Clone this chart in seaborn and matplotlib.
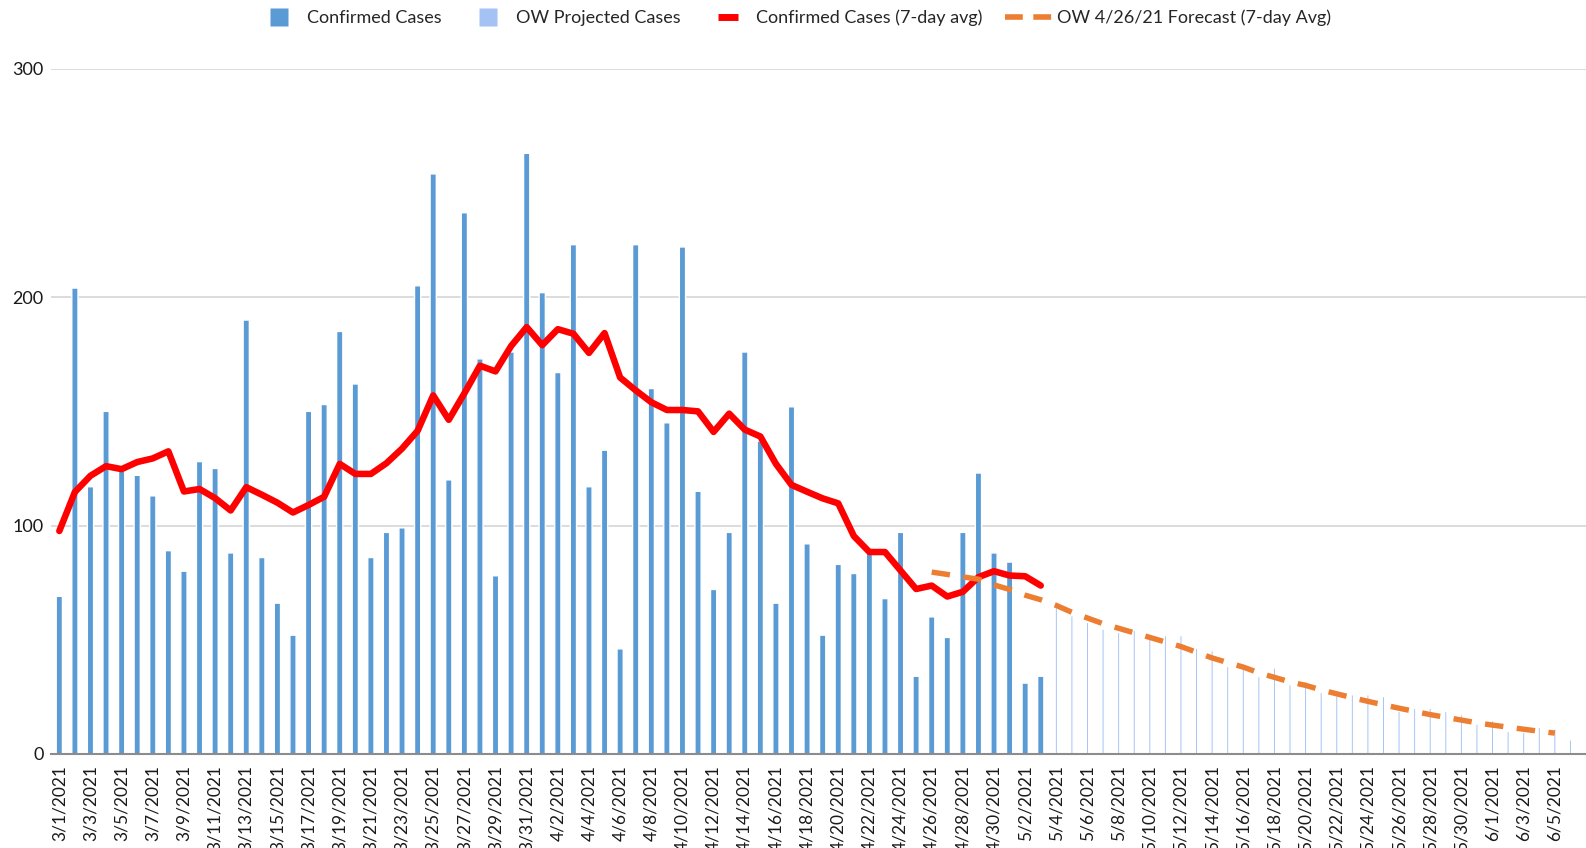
import numpy as np
import pandas as pd
import matplotlib
matplotlib.use("Agg")
import matplotlib.pyplot as plt
from matplotlib.lines import Line2D
import seaborn as sns

# daily values
start = "2021-03-01"
confirmed = [69, 204, 117, 150, 124, 122, 113, 89, 80, 128, 125, 88, 190, 86, 66, 52,
             150, 153, 185, 162, 86, 97, 99, 205, 254, 120, 237, 173, 78, 176, 263,
             202, 167, 223, 117, 133, 46, 223, 160, 145, 222, 115, 72, 97, 176, 137,
             66, 152, 92, 52, 83, 79, 88, 68, 97, 34, 60, 51, 97, 123, 88, 84,
             31, 34]
confirmed_avg = [97.6, 114.7, 121.8, 126, 124.7, 127.8, 129.4, 132.5, 114.9, 116, 112,
                 106.6, 116.8, 113.5, 110, 105.7, 109, 112.6, 127, 122.6, 122.6, 127.3,
                 133.7, 141.5, 157, 146.3, 157.9, 170, 167.5, 178.6, 186.9,
                 179, 186, 184, 175.6, 184.3, 164.8, 159.2, 154, 150.6, 150.6, 150,
                 141, 149, 142, 139, 127, 117.8, 114.8, 111.9, 109.7, 95.4, 88.4, 88.4,
                 80.3, 72.2, 73.7, 68.9, 71, 77.4, 80,
                 78.1, 77.8, 73.7]
projected = [64, 60.5, 57.6, 54.7, 53.2, 54.1, 52.2, 51.8, 51.8, 46.3, 45.2, 38.3, 38.6,
             33.9, 37.6, 30.3, 31.7, 26.9, 25.4, 25.9, 25.9, 25.1, 18.6, 20, 20, 18.6,
             17.1, 13, 14.6, 9.8, 9.5, 11.7, 11, 6.1]
forecast_start = "2021-04-26"
forecast = [79.6, 78.6, 77.5, 76.5, 74,
            72, 69.5, 67.5, 65, 62, 59.5, 57, 55, 53, 51,
            49, 47, 44.5, 42, 40, 38, 35.5, 33.5, 31.5, 30,
            28, 26.3, 24.6, 23, 21.5, 20, 18.6, 17.2, 16, 14.8, 13.6,
            12.6, 11.7, 10.8, 9.9, 9.1]

c_conf = "#5B9BD5"
c_proj = "#A4C2F4"
c_red = "#FF0000"
c_orange = "#ED7D31"

dates = pd.date_range(start, periods=len(confirmed) + len(projected), freq="D")
day = np.arange(len(dates))
n_conf = len(confirmed)
f0 = (pd.Timestamp(forecast_start) - pd.Timestamp(start)).days

df_conf = pd.DataFrame({"day": day[:n_conf], "cases": confirmed, "avg": confirmed_avg})
df_proj = pd.DataFrame({"day": day[n_conf:], "cases": projected})
df_fc = pd.DataFrame({"day": day[f0:f0 + len(forecast)], "avg": forecast})

sns.set_theme(style="white")
plt.rcParams["font.family"] = ["Lato", "DejaVu Sans"]

fig = plt.figure(figsize=(15.86, 8.48), dpi=100)
ax = fig.add_axes([0.032, 0.111, 0.968, 0.8078])

sns.barplot(data=df_conf, x="day", y="cases", native_scale=True, width=0.4,
            color=c_conf, saturation=1, errorbar=None, ax=ax)
sns.barplot(data=df_proj, x="day", y="cases", native_scale=True, width=0.15,
            color=c_proj, saturation=1, errorbar=None, ax=ax)
for p in ax.patches:
    p.set_snap(False)
sns.lineplot(data=df_conf, x="day", y="avg", color=c_red, lw=4.7, ax=ax, zorder=3)
sns.lineplot(data=df_fc, x="day", y="avg", color=c_orange, lw=3.9,
             linestyle=(0, (3.4, 2.5)), ax=ax, zorder=4)

ax.set_xlim(-0.55, 98.0)
ax.set_ylim(0, 300)
ax.set_yticks([0, 100, 200, 300])
ax.set_axisbelow(True)
ax.yaxis.grid(True, color="#D9D9D9", lw=1.3)
ax.xaxis.grid(False)
ax.set_xticks(day[::2])
ax.set_xticklabels([f"{d.month}/{d.day}/{d.year}" for d in dates[::2]], rotation=90)
ax.tick_params(axis="x", length=0, labelsize=12.5, pad=8, colors="#1a1a1a")
ax.tick_params(axis="y", length=0, labelsize=13, pad=5, colors="#1a1a1a")
for s in ["top", "right", "left"]:
    ax.spines[s].set_visible(False)
ax.spines["bottom"].set_color("#8C8C8C")
ax.spines["bottom"].set_linewidth(1.5)
ax.set_xlabel("")
ax.set_ylabel("")

handles = [
    Line2D([], [], ls="none", marker="s", ms=13, mfc=c_conf, mec="none"),
    Line2D([], [], ls="none", marker="s", ms=13, mfc=c_proj, mec="none"),
    Line2D([], [], ls="none", marker="_", ms=15, mew=5, color=c_red),
    Line2D([], [], color=c_orange, lw=4, ls=(0, (3.2, 1.9))),
]
labels = ["Confirmed Cases", "OW Projected Cases", "Confirmed Cases (7-day avg)",
          "OW 4/26/21 Forecast (7-day Avg)"]
fig.legend(handles, labels, loc="upper center", bbox_to_anchor=(0.5, 1.008), ncol=4,
           frameon=False, fontsize=13, handlelength=2.6, handletextpad=0.25,
           columnspacing=1.3, labelcolor="#262626")

fig.savefig("out.png", dpi=100)
